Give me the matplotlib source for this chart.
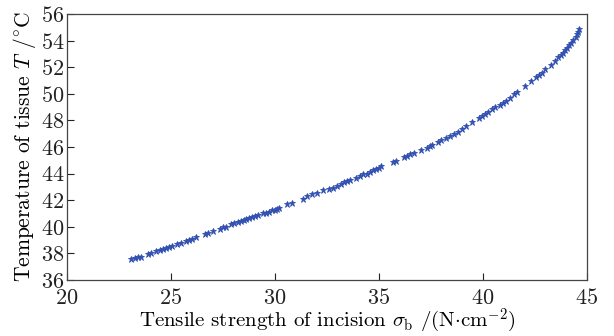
import matplotlib
matplotlib.use("Agg")
import matplotlib.pyplot as plt

plt.rcParams['font.family'] = ['cmr10', 'DejaVu Serif']
plt.rcParams['mathtext.fontset'] = 'cm'
plt.rcParams['axes.formatter.use_mathtext'] = True

sigma_b = [23.1, 23.25, 23.4, 23.55, 23.9, 24.05, 24.3, 24.45, 24.6, 24.75, 24.9, 25.05,
           25.3, 25.5, 25.7, 25.85, 26.0, 26.2, 26.65, 26.8, 27.0, 27.35, 27.5, 27.65,
           27.9, 28.05, 28.2, 28.35, 28.5, 28.6, 28.75, 28.9, 29.05, 29.2, 29.4, 29.55,
           29.7, 29.85, 30.0, 30.1, 30.2, 30.6, 30.8,
           31.35, 31.55, 31.8, 32.0, 32.3, 32.6, 32.8, 33.0, 33.15, 33.3, 33.45, 33.6,
           33.9, 34.1, 34.25, 34.4, 34.55, 34.7, 34.85, 35.0, 35.1,
           35.65, 35.8, 36.2, 36.35, 36.5, 36.7, 37.0, 37.3, 37.45, 37.55, 37.85, 38.0,
           38.2, 38.4, 38.6, 38.8, 39.0, 39.2,
           39.45, 39.8, 39.95, 40.1, 40.25, 40.45, 40.6, 40.8, 40.95, 41.1, 41.3, 41.5,
           41.65, 42.0, 42.3, 42.55, 42.7, 42.85, 43.0, 43.25, 43.45, 43.6, 43.75, 43.85,
           43.95, 44.05, 44.15, 44.25, 44.35, 44.45, 44.5, 44.55, 44.6]

temperature = [37.6, 37.65, 37.7, 37.75, 37.95, 38.0, 38.15, 38.25, 38.3, 38.4, 38.5, 38.55,
               38.7, 38.8, 38.95, 39.0, 39.1, 39.2, 39.45, 39.55, 39.65, 39.85, 39.95, 40.0,
               40.2, 40.3, 40.35, 40.45, 40.5, 40.55, 40.65, 40.7, 40.8, 40.9, 41.0, 41.05,
               41.15, 41.25, 41.3, 41.35, 41.4, 41.7, 41.8,
               42.1, 42.3, 42.45, 42.55, 42.75, 42.85, 42.95, 43.1, 43.2, 43.35, 43.45, 43.5,
               43.7, 43.85, 43.95, 44.0, 44.1, 44.25, 44.35, 44.45, 44.55,
               44.85, 44.95, 45.25, 45.35, 45.45, 45.55, 45.75, 45.95, 46.05, 46.15, 46.35, 46.5,
               46.7, 46.85, 46.95, 47.15, 47.35, 47.55,
               47.85, 48.2, 48.35, 48.5, 48.65, 48.85, 49.0, 49.15, 49.3, 49.45, 49.7, 49.95,
               50.1, 50.55, 50.95, 51.25, 51.45, 51.6, 51.85, 52.2, 52.5, 52.75, 52.95, 53.1,
               53.3, 53.45, 53.65, 53.85, 54.05, 54.3, 54.5, 54.65, 54.85]

x_ticks = [20, 25, 30, 35, 40, 45]
y_ticks = [36, 38, 40, 42, 44, 46, 48, 50, 52, 54, 56]

fig = plt.figure(figsize=(6.14, 3.36), dpi=100)
ax = fig.add_axes([67/614, 1-280/336, 520/614, 266/336])

ax.plot(sigma_b, temperature, linestyle='none', marker='*', markersize=4.5,
        color='#3150b0', markeredgewidth=0.6)

ax.set_xlim(20, 45)
ax.set_ylim(36, 56)
ax.set_xticks(x_ticks)
ax.set_yticks(y_ticks)
ax.tick_params(direction='in', length=5, width=0.8, labelsize=16,
               top=False, right=False, colors='#222222')
ax.tick_params(axis='x', pad=6)
ax.tick_params(axis='y', pad=2)
for s in ax.spines.values():
    s.set_linewidth(0.9)
    s.set_color('#444444')

ax.set_xlabel(r'Tensile strength of incision $\sigma_{\rm b}$ /(N$\cdot$cm$^{-2}$)',
              fontsize=15, labelpad=-1)
ax.set_ylabel(r'Temperature of tissue $T$ /$^{\circ}$C', fontsize=15.5, labelpad=2)

fig.savefig('out.png', dpi=100)
